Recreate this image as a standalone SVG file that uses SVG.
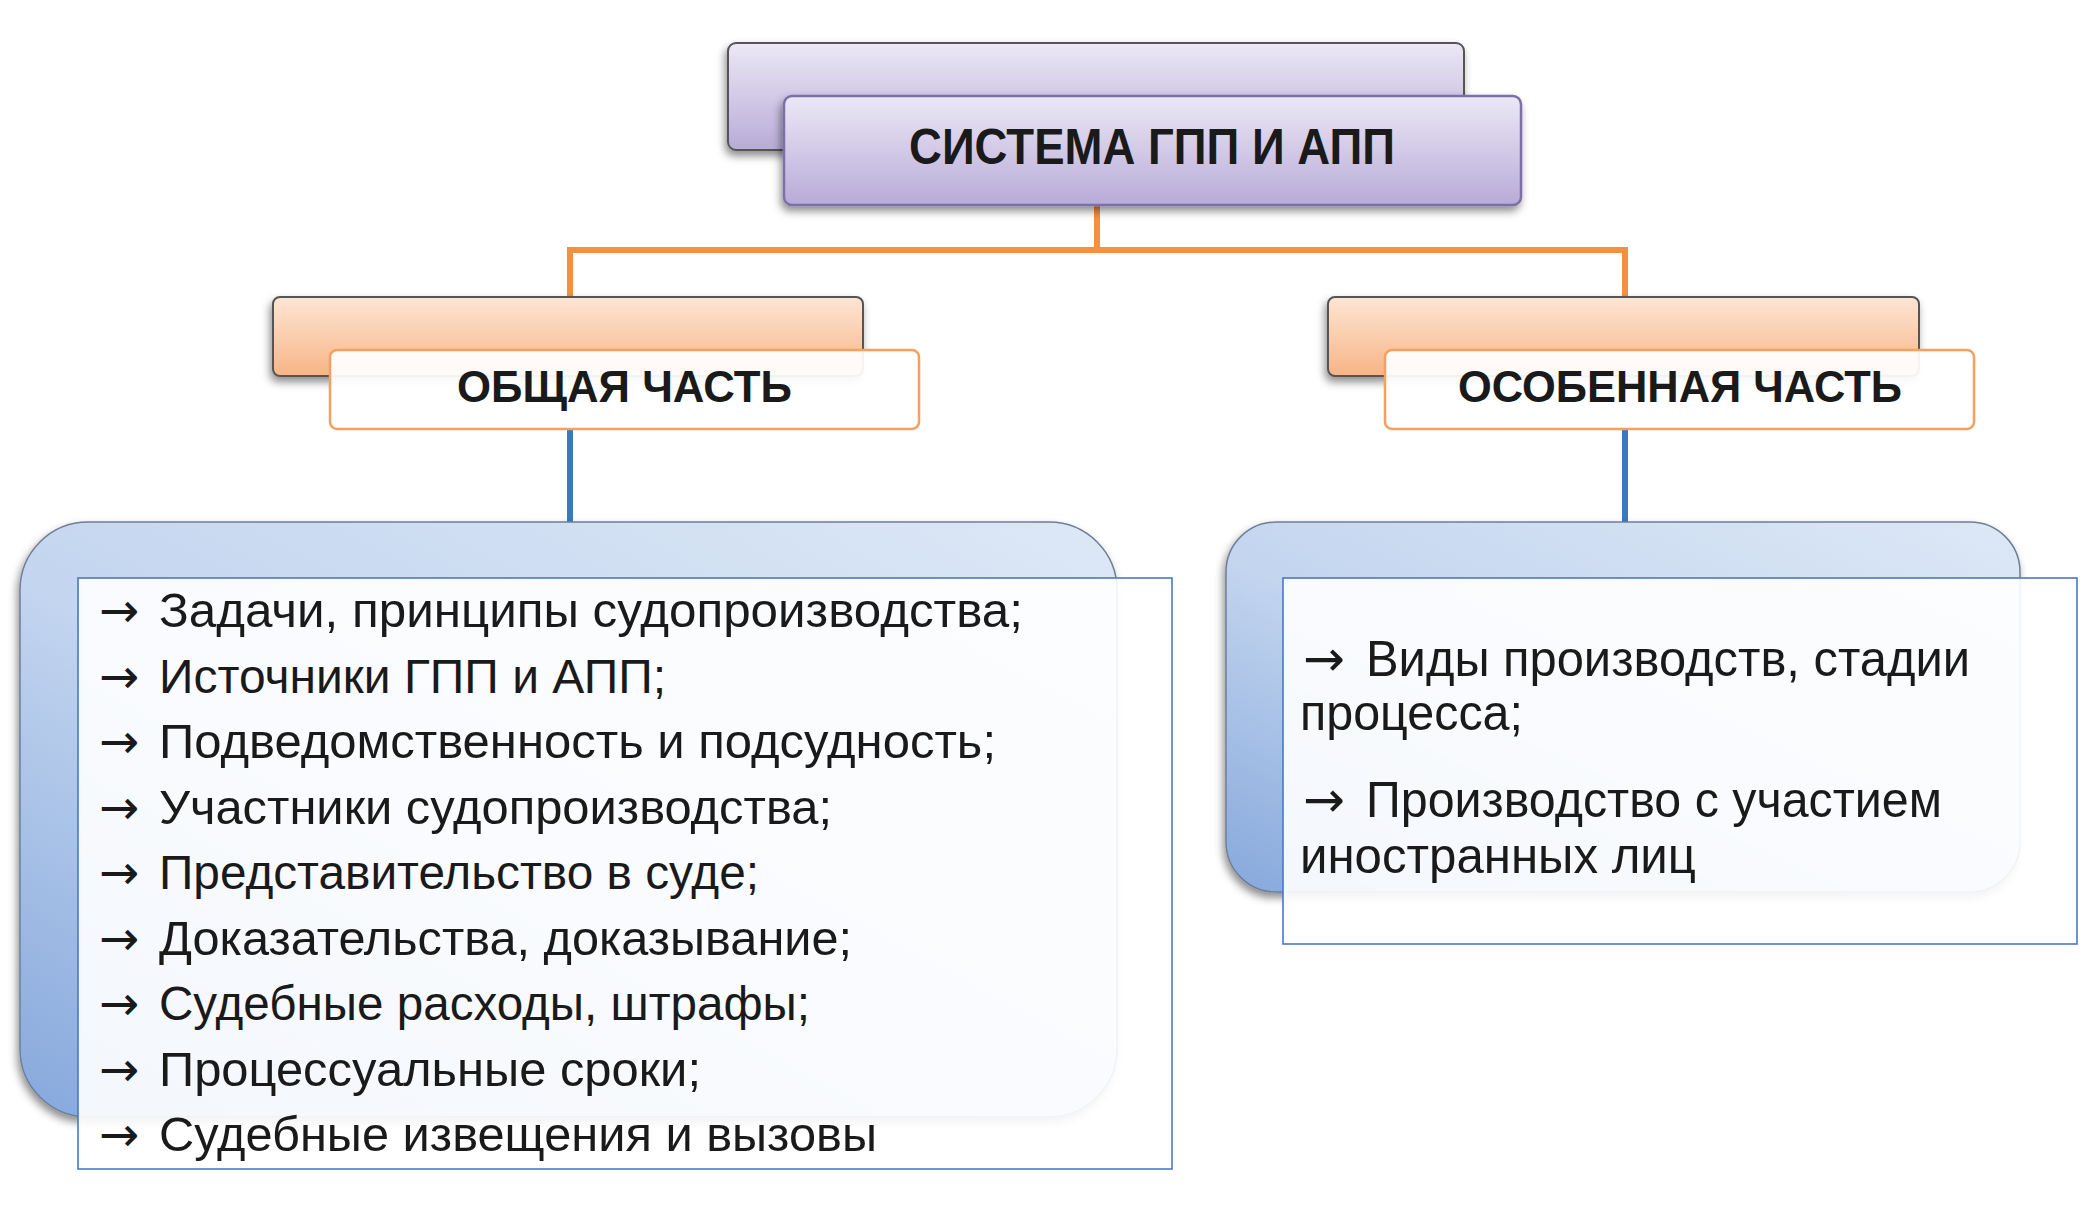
<svg xmlns="http://www.w3.org/2000/svg" width="2097" height="1208" viewBox="0 0 2097 1208">
<style>
  .t { font-family: "Liberation Sans", Arial, sans-serif; fill: #1a1a1a; }
  .ar { font-family: "DejaVu Sans", "Liberation Sans", sans-serif; fill: #1a1a1a; }
  .hd { font-weight: bold; }
  .li { font-size: 48px; }
  .lr { font-size: 50px; }
  .orng { fill: none; stroke: #f5913e; stroke-width: 6; }
  .blu { fill: none; stroke: #3b78c0; stroke-width: 6; }
  .tbox { fill: #ffffff; fill-opacity: 0.9; stroke: #4a78c6; stroke-width: 1.6; }
  .ofront { fill: #ffffff; fill-opacity: 0.93; stroke: #f4a060; stroke-width: 2.5; }
</style>
<defs>
  <linearGradient id="gPurple" x1="0" y1="0" x2="0" y2="1">
    <stop offset="0" stop-color="#ece8f5"/>
    <stop offset="1" stop-color="#b8abd8"/>
  </linearGradient>
  <linearGradient id="gOrange" x1="0" y1="0" x2="0" y2="1">
    <stop offset="0" stop-color="#fde6d4"/>
    <stop offset="1" stop-color="#f8b486"/>
  </linearGradient>
  <linearGradient id="gBlue" x1="1" y1="0" x2="0" y2="1">
    <stop offset="0" stop-color="#dde8f6"/>
    <stop offset="0.55" stop-color="#c3d5ef"/>
    <stop offset="1" stop-color="#86a8dc"/>
  </linearGradient>
  <filter id="sh" x="-10%" y="-10%" width="120%" height="130%">
    <feDropShadow dx="-2" dy="5" stdDeviation="4" flood-color="#000" flood-opacity="0.45"/>
  </filter>
</defs>
<rect width="2097" height="1208" fill="#ffffff"/>

<g id="connectors">
  <path class="orng" d="M1097,205 V250 M570,297 V250 H1625 V297"/>
  <path class="blu" d="M570,429 V522 M1625,429 V522"/>
</g>

<g id="node-root">
  <rect x="728" y="43" width="736" height="107" rx="8" fill="url(#gPurple)" stroke="#555" stroke-width="2" filter="url(#sh)"/>
  <rect x="784" y="96" width="737" height="109" rx="8" fill="url(#gPurple)" stroke="#7d70a8" stroke-width="2.5" filter="url(#sh)"/>
  <text class="t hd" x="1152" y="164" font-size="50" text-anchor="middle" textLength="486" lengthAdjust="spacingAndGlyphs">СИСТЕМА ГПП И АПП</text>
</g>

<g id="node-general">
  <rect x="273" y="297" width="590" height="79" rx="7" fill="url(#gOrange)" stroke="#555" stroke-width="2" filter="url(#sh)"/>
  <rect class="ofront" x="330" y="350" width="589" height="79" rx="7"/>
  <text class="t hd" x="624.5" y="402" font-size="45" text-anchor="middle" textLength="335" lengthAdjust="spacingAndGlyphs">ОБЩАЯ ЧАСТЬ</text>
</g>

<g id="node-special">
  <rect x="1328" y="297" width="591" height="79" rx="7" fill="url(#gOrange)" stroke="#555" stroke-width="2" filter="url(#sh)"/>
  <rect class="ofront" x="1385" y="350" width="589" height="79" rx="7"/>
  <text class="t hd" x="1680" y="402" font-size="45" text-anchor="middle" textLength="444" lengthAdjust="spacingAndGlyphs">ОСОБЕННАЯ ЧАСТЬ</text>
</g>

<g id="node-general-list">
  <rect x="20" y="522" width="1097" height="595" rx="68" fill="url(#gBlue)" stroke="#6f7f95" stroke-width="1.5" filter="url(#sh)"/>
  <rect class="tbox" x="78" y="578" width="1094" height="591"/>
  <g class="ar li">
    <text x="99" y="627">→</text>
    <text x="99" y="692.5">→</text>
    <text x="99" y="758">→</text>
    <text x="99" y="823.5">→</text>
    <text x="99" y="889">→</text>
    <text x="99" y="954.5">→</text>
    <text x="99" y="1020">→</text>
    <text x="99" y="1085.5">→</text>
    <text x="99" y="1151">→</text>
  </g>
  <g class="t li">
    <text x="159" y="627" textLength="864" lengthAdjust="spacingAndGlyphs">Задачи, принципы судопроизводства;</text>
    <text x="159" y="692.5" textLength="507" lengthAdjust="spacingAndGlyphs">Источники ГПП и АПП;</text>
    <text x="159" y="758" textLength="837" lengthAdjust="spacingAndGlyphs">Подведомственность и подсудность;</text>
    <text x="159" y="823.5" textLength="673" lengthAdjust="spacingAndGlyphs">Участники судопроизводства;</text>
    <text x="159" y="889" textLength="600" lengthAdjust="spacingAndGlyphs">Представительство в суде;</text>
    <text x="159" y="954.5" textLength="693" lengthAdjust="spacingAndGlyphs">Доказательства, доказывание;</text>
    <text x="159" y="1020" textLength="651" lengthAdjust="spacingAndGlyphs">Судебные расходы, штрафы;</text>
    <text x="159" y="1085.5" textLength="542" lengthAdjust="spacingAndGlyphs">Процессуальные сроки;</text>
    <text x="159" y="1151" textLength="718" lengthAdjust="spacingAndGlyphs">Судебные извещения и вызовы</text>
  </g>
</g>

<g id="node-special-list">
  <rect x="1226" y="522" width="794" height="370" rx="50" fill="url(#gBlue)" stroke="#6f7f95" stroke-width="1.5" filter="url(#sh)"/>
  <rect class="tbox" x="1283" y="578" width="794" height="366"/>
  <g class="ar lr">
    <text x="1303" y="676">→</text>
    <text x="1303" y="817">→</text>
  </g>
  <g class="t lr">
    <text x="1366" y="676" textLength="604" lengthAdjust="spacingAndGlyphs">Виды производств, стадии</text>
    <text x="1300" y="730" textLength="223" lengthAdjust="spacingAndGlyphs">процесса;</text>
    <text x="1366" y="817" textLength="576" lengthAdjust="spacingAndGlyphs">Производство с участием</text>
    <text x="1300" y="873" textLength="396" lengthAdjust="spacingAndGlyphs">иностранных лиц</text>
  </g>
</g>
</svg>
